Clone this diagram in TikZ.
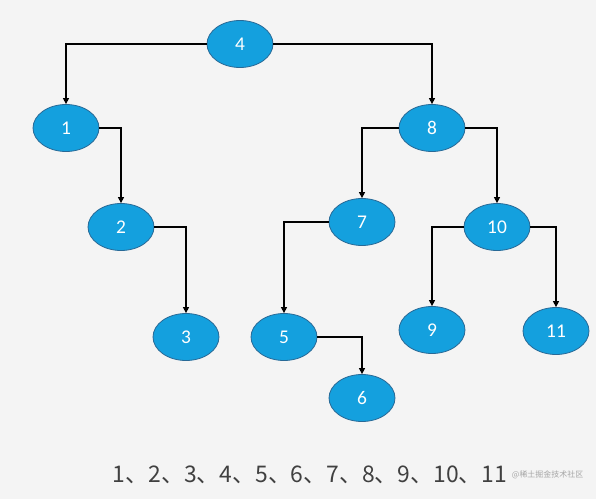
\documentclass[tikz,border=0pt]{standalone}
\usepackage{fontspec}
\setmainfont{Carlito}
\newfontfamily\cjk{Noto Sans CJK SC}
\usetikzlibrary{arrows.meta,shapes.geometric}
\definecolor{bgc}{RGB}{244,244,244}
\definecolor{nodefill}{RGB}{20,160,222}
\definecolor{nodeline}{RGB}{40,105,150}
\definecolor{txtc}{RGB}{64,64,64}
\tikzset{
  >=stealth,
  tnode/.style ={ellipse, draw=nodeline, line width=0.8bp, fill=nodefill, text=white,
                 minimum width=66bp, minimum height=47bp, inner sep=0pt, font=\fontsize{19.5}{22}\selectfont},
  arr/.style   ={-{Triangle[length=6bp,width=6bp]}, line width=1.3bp, black},
  seq/.style   ={text=txtc, font=\cjk\fontsize{23}{27}\selectfont},
  wmark/.style ={text=black!35, inner xsep=1bp, font=\cjk\fontsize{8}{10}\selectfont},
}

\begin{document}
\begin{tikzpicture}[x=1bp,y=-1bp]
  \fill[bgc] (0,0) rectangle (596,499);
  \useasboundingbox (0,0) rectangle (596,499);

  % tree nodes
  \node[tnode] (n4)  at (240,44)  {4};
  \node[tnode] (n1)  at (66,128)  {1};
  \node[tnode] (n8)  at (432,128) {8};
  \node[tnode] (n2)  at (121,227) {2};
  \node[tnode] (n7)  at (362,222) {7};
  \node[tnode] (n10) at (497,227) {10};
  \node[tnode] (n3)  at (186,337) {3};
  \node[tnode] (n5)  at (284,337) {5};
  \node[tnode] (n9)  at (432,330) {9};
  \node[tnode] (n11) at (556,331) {11};
  \node[tnode] (n6)  at (362,398) {6};

  % links
  \draw[arr] (n4.west)  -| (n1.north);
  \draw[arr] (n4.east)  -| (n8.north);
  \draw[arr] (n1.east)  -| (n2.north);
  \draw[arr] (n2.east)  -| (n3.north);
  \draw[arr] (n8.west)  -| (n7.north);
  \draw[arr] (n8.east)  -| (n10.north);
  \draw[arr] (n7.west)  -| (n5.north);
  \draw[arr] (n5.east)  -| (n6.north);
  \draw[arr] (n10.west) -| (n9.north);
  \draw[arr] (n10.east) -| (n11.north);

  % in-order result
  \node[seq] (order) at (310,475) {1、2、3、4、5、6、7、8、9、10、11};
  \node[wmark, anchor=west] (mark) at (order.east) {@稀土掘金技术社区};
\end{tikzpicture}
\end{document}
